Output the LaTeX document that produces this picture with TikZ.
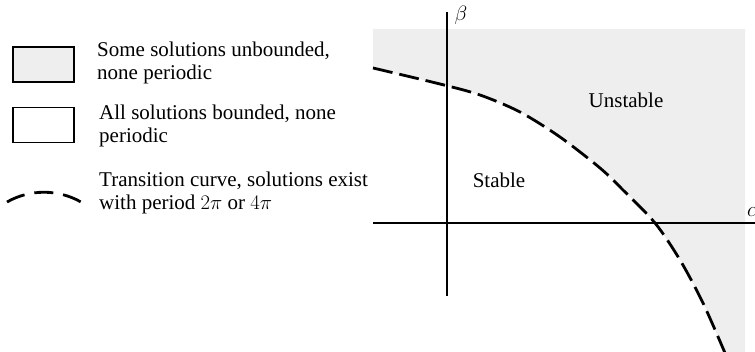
\documentclass[tikz,border=0pt]{standalone}
\usepackage{fontspec}
\setmainfont{Liberation Serif}
\definecolor{unstablegray}{HTML}{EEEEEE}

\begin{document}
\begin{tikzpicture}[x=1pt,y=-1pt,font=\fontsize{21}{23}\selectfont,
  transition/.style={line width=2.8pt,dash pattern=on 20pt off 7pt},
  legendbox/.style={draw,line width=1.3pt,minimum width=61pt,minimum height=35pt,inner sep=0pt},
  legendtext/.style={anchor=base west,align=left,inner sep=0pt},
  axis/.style={line width=1.3pt}]
 \useasboundingbox (0,0) rectangle (755,352);
 \fill[unstablegray] (373,29) -- (745,29) -- (745,352) -- (725,352)
   -- plot[smooth] coordinates {(725,353) (703,303) (680,260) (655,223) (623,190) (600,168) (560,137) (520,112) (480,95) (440,84) (373,68)}
   -- cycle;
 \draw[transition] plot[smooth] coordinates {(373,68) (440,84) (480,95) (520,112) (560,137) (600,168) (623,190) (655,223) (680,260) (703,303) (725,353)};
 \coordinate (hleft) at (373,223);
 \coordinate (hright) at (755,223);
 \coordinate (vbottom) at (447,296);
 \coordinate (vtop) at (447,12);
 \draw[axis] (hleft)--(hright);
 \draw[axis] (vbottom)--(vtop);
 \node (beta) at (461,15) {$\beta$};
 \node[anchor=west,inner sep=0pt] (alpha) at (747,212) {$\alpha$};
 \node (unstable) at (626,100) {Unstable};
 \node (stable) at (499,180) {Stable};
 \node[legendbox,fill=unstablegray] (boxunb) at (43.5,64.5) {};
 \node[legendbox] (boxbnd) at (43.5,125) {};
 \node[legendtext] (txtunb) at (97,80) {Some solutions unbounded,\\none periodic};
 \node[legendtext] (txtbnd) at (99,143) {All solutions bounded, none\\periodic};
 \node[legendtext] (txttrans) at (99,210) {Transition curve, solutions exist\\with period $2\pi$ or $4\pi$};
 \draw[transition,dash pattern=on 19pt off 10pt] (7,202) .. controls (30,189) and (58,189) .. (81,202);
\end{tikzpicture}
\end{document}
